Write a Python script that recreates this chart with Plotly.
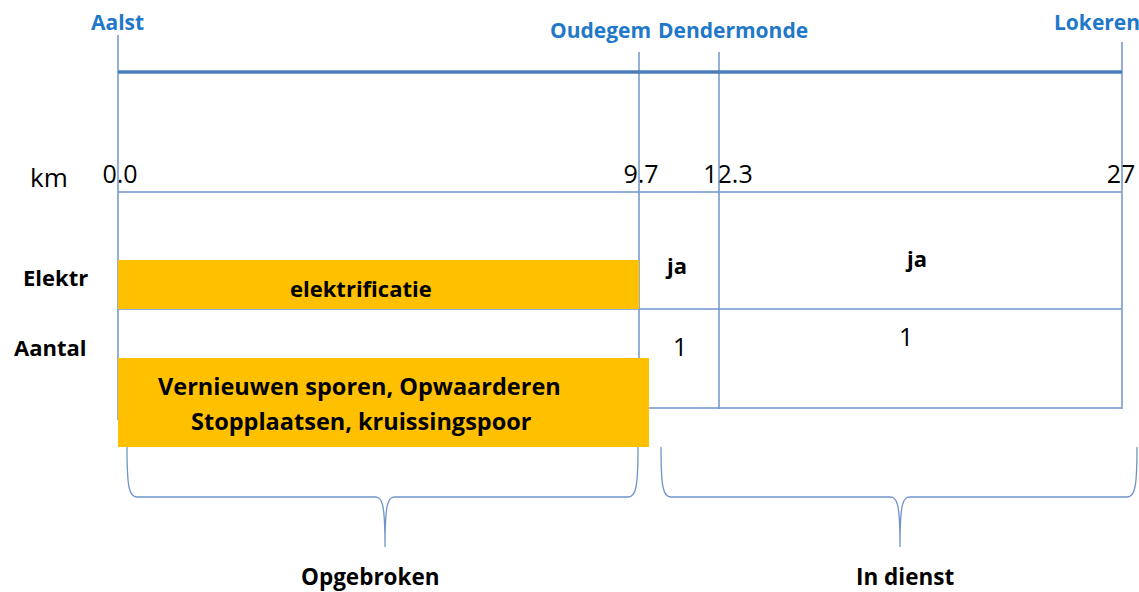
import plotly.graph_objects as go

# ---- data ----
stations = ["Aalst", "Oudegem", "Dendermonde", "Lokeren"]
km_labels = ["0.0", "9.7", "12.3", "27"]
row_labels = ["Elektr", "Aantal"]
elektr_values = ["elektrificatie", "ja", "ja"]
aantal_values = ["", "1", "1"]
works_lines = ["Vernieuwen sporen, Opwaarderen", "Stopplaatsen, kruissingspoor"]
status_labels = ["Opgebroken", "In dienst"]

# ---- schematic layout (pixel-like coordinates of the drawing) ----
W, H = 1139, 592
xs = [118, 639, 719, 1122]            # schematic position of each station
station_lab = [(117, 22), (600, 30), (733, 30), (1097, 22)]
km_lab_x = [120, 641, 728, 1121]
vline_top = [35, 52, 52, 42]
LINE = "#6F93CB"
DARK = "#4A7EBB"
ORANGE = "#FFC000"
BLUE_TXT = "#1F78C8"
FONT = "Open Sans"

fig = go.Figure()
shapes = []
ann = []

def line(x0, y0, x1, y1, color=LINE, w=1.5):
    shapes.append(dict(type="line", x0=x0, y0=y0, x1=x1, y1=y1, xref="x", yref="y",
                       line=dict(color=color, width=w)))

# vertical station lines
line(xs[0], vline_top[0], xs[0], 420)
for i in range(1, 4):
    line(xs[i], vline_top[i], xs[i], 409)
# top track line
line(xs[0], 72, xs[3], 72, DARK, 3.5)
# table horizontal lines
line(xs[0], 192, xs[3], 192)
line(xs[0], 309, xs[3], 309)
line(xs[1], 408, xs[3], 408)

# orange work bars
shapes.append(dict(type="rect", x0=xs[0], x1=xs[1], y0=260, y1=309, xref="x", yref="y",
                   fillcolor=ORANGE, line=dict(width=0)))
shapes.append(dict(type="rect", x0=xs[0], x1=649, y0=358, y1=447, xref="x", yref="y",
                   fillcolor=ORANGE, line=dict(width=0)))

# braces
def brace(x0, x1, xm, ytop=447, ymid=497, ytip=547):
    p = (f"M {x0},{ytop} C {x0},{ymid-10} {x0+2},{ymid} {x0+10},{ymid} "
         f"L {xm-10},{ymid} C {xm-3},{ymid} {xm},{ymid+5} {xm},{ytip} "
         f"C {xm},{ymid+5} {xm+3},{ymid} {xm+10},{ymid} "
         f"L {x1-10},{ymid} C {x1-2},{ymid} {x1},{ymid-10} {x1},{ytop}")
    shapes.append(dict(type="path", path=p, xref="x", yref="y",
                       line=dict(color=LINE, width=1.3)))

brace(127, 638, 385)
brace(661, 1137, 900)

# station names
for name, (x, y) in zip(stations, station_lab):
    ann.append(dict(x=x, y=y, text=f"<b>{name}</b>", showarrow=False,
                    font=dict(family=FONT, size=21, color=BLUE_TXT)))

# km row
ann.append(dict(x=49, y=177, text="km", showarrow=False,
                font=dict(family=FONT, size=26, color="black")))
fig.add_trace(go.Scatter(x=km_lab_x, y=[177] * 4, text=km_labels, mode="text",
                         textfont=dict(family=FONT, size=25, color="black"),
                         hoverinfo="skip", showlegend=False))

# row labels
ann.append(dict(x=55, y=277, text=f"<b>{row_labels[0]}</b>", showarrow=False,
                font=dict(family=FONT, size=22, color="black")))
ann.append(dict(x=50, y=347, text=f"<b>{row_labels[1]}</b>", showarrow=False,
                font=dict(family=FONT, size=22, color="black")))

# elektr values
for (x, y), v in zip([(361, 288), (676, 265), (916, 258)], elektr_values):
    ann.append(dict(x=x, y=y, text=f"<b>{v}</b>", showarrow=False,
                    font=dict(family=FONT, size=22, color="black")))
# aantal values
for (x, y), v in zip([(361, 340), (680, 346), (906, 336)], aantal_values):
    if v:
        ann.append(dict(x=x, y=y, text=v, showarrow=False,
                        font=dict(family=FONT, size=25, color="black")))

# works text
for (x, y), t in zip([(359, 386), (361, 421)], works_lines):
    ann.append(dict(x=x, y=y, text=f"<b>{t}</b>", showarrow=False,
                    font=dict(family=FONT, size=23.5, color="black")))

# status labels
for (x, y), t in zip([(370, 576), (905, 576)], status_labels):
    ann.append(dict(x=x, y=y, text=f"<b>{t}</b>", showarrow=False,
                    font=dict(family=FONT, size=22.5, color="black")))

fig.update_layout(
    width=W, height=H, margin=dict(l=0, r=0, t=0, b=0),
    paper_bgcolor="white", plot_bgcolor="white",
    xaxis=dict(range=[0, W], visible=False, fixedrange=True),
    yaxis=dict(range=[H, 0], visible=False, fixedrange=True),
    shapes=shapes, annotations=ann, showlegend=False,
)
fig.write_html("out.html",
               post_script="document.body.style.margin='0';document.body.style.overflow='hidden';",
               config={"displayModeBar": False})
